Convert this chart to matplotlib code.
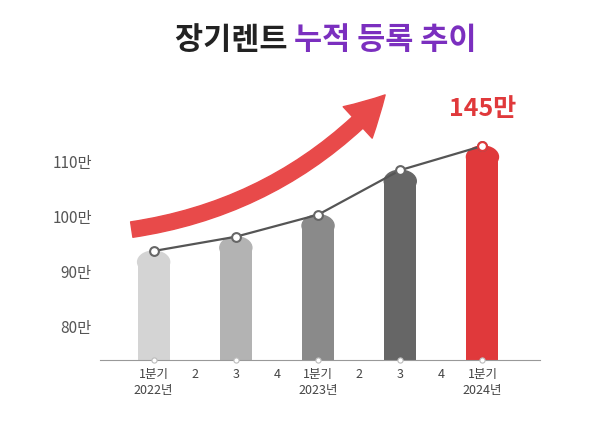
import matplotlib
matplotlib.use("Agg")
import matplotlib.pyplot as plt
from matplotlib.patches import Ellipse, FancyArrowPatch

plt.rcParams["font.family"] = "Noto Sans CJK KR"

# ── data ──────────────────────────────────────────────────────────────
tick_labels = ["1분기\n2022년", "2", "3", "4", "1분기\n2023년", "2", "3", "4", "1분기\n2024년"]
bar_pos = [0, 2, 4, 6, 8]
values = [93.8, 96.4, 100.4, 108.5, 112.9]
bar_colors = ["#d4d4d4", "#b3b3b3", "#8a8a8a", "#666666", "#e0393b"]
yticks = [80, 90, 100, 110]
ytick_labels = ["80만", "90만", "100만", "110만"]
highlight = "145만"

fig = plt.figure(figsize=(6, 4.22), dpi=100)
ax = fig.add_axes([0.167, 0.147, 0.733, 0.545])
base = 74
ax.set_ylim(base, 115.8)
ax.set_xlim(-1.3, 9.4)

w = 0.78
cap = 4.0
for x, v, c in zip(bar_pos, values, bar_colors):
    ax.bar(x, v - cap / 2 - base, bottom=base, width=w, color=c, zorder=2)
    ax.add_patch(Ellipse((x, v - cap / 2), w, cap, color=c, zorder=2))
    ax.scatter([x], [base], s=14, facecolor="white", edgecolor="#bbbbbb", lw=0.8, zorder=4, clip_on=False)

ax.plot(bar_pos, values, color="#555555", lw=1.6, zorder=3)
ax.scatter(bar_pos, values, s=40, facecolor="white", edgecolor="#666666", lw=1.5, zorder=4)
ax.scatter([bar_pos[-1]], [values[-1]], s=40, facecolor="white", edgecolor="#e0393b", lw=1.5, zorder=5)

ax.text(bar_pos[-1], 117.5, highlight, ha="center", va="bottom", fontsize=18, fontweight="bold",
        color="#e0393b", clip_on=False)

ax.set_xticks(range(9))
ax.set_xticklabels(tick_labels, fontsize=9, color="#444444", linespacing=1.3)
ax.set_yticks(yticks)
ax.set_yticklabels(ytick_labels, fontsize=11, color="#555555")
ax.tick_params(length=0, pad=6)
for s in ["left", "right", "top"]:
    ax.spines[s].set_visible(False)
ax.spines["bottom"].set_color("#999999")

# decorative arrow
arrow = FancyArrowPatch((0.215, 0.455), (0.645, 0.78), transform=fig.transFigure,
                        connectionstyle="arc3,rad=0.18", color="#e84a4a",
                        arrowstyle="simple,head_width=2.2,head_length=2.0,tail_width=0.8",
                        mutation_scale=14, zorder=1)
fig.patches.append(arrow)

fig.text(0.49, 0.905, "장기렌트 ", ha="right", va="center", fontsize=22, fontweight="bold", color="#222222")
fig.text(0.49, 0.905, "누적 등록 추이", ha="left", va="center", fontsize=22, fontweight="bold", color="#7b2fbf")

fig.savefig("out.png", dpi=100)
